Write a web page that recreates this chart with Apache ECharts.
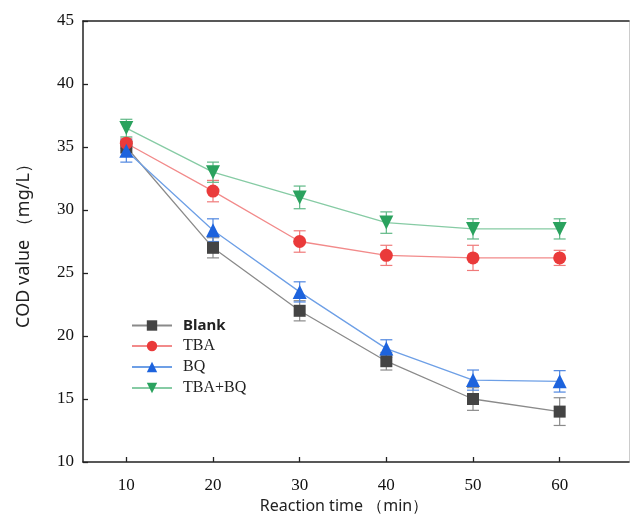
<!DOCTYPE html>
<html><head><meta charset="utf-8">
<script src="https://cdn.jsdelivr.net/npm/echarts@6/dist/echarts.min.js"></script>
<style>html,body{margin:0;padding:0;background:#fff}#c{width:630px;height:515px}</style>
</head><body><div id="c"></div>
<script>
const times = [10, 20, 30, 40, 50, 60];
const xTicks = [10, 20, 30, 40, 50, 60];
const blank = [35.0, 27.0, 22.0, 18.0, 15.0, 14.0];
const blankErr = [0.5, 0.8, 0.8, 0.7, 0.9, 1.1];
const tba = [35.3, 31.5, 27.5, 26.4, 26.2, 26.2];
const tbaErr = [0.4, 0.85, 0.85, 0.8, 1.0, 0.6];
const bq = [34.7, 28.4, 23.5, 19.0, 16.5, 16.4];
const bqErr = [0.9, 0.9, 0.8, 0.7, 0.8, 0.85];
const tbabq = [36.5, 33.0, 31.0, 29.0, 28.5, 28.5];
const tbabqErr = [0.7, 0.8, 0.9, 0.85, 0.8, 0.8];

const seriesDefs = [
  {name:'Blank', data:blank, err:blankErr, symbol:'rect', size:12, line:'#8a8a8a', mark:'#444444', errc:'#8a8a8a'},
  {name:'TBA', data:tba, err:tbaErr, symbol:'circle', size:13, line:'#f28a8a', mark:'#ea3a3a', errc:'#f07a7a'},
  {name:'BQ', data:bq, err:bqErr, symbol:'triangle', size:14, line:'#6d9fe6', mark:'#1d63dd', errc:'#4f86e0'},
  {name:'TBA+BQ', data:tbabq, err:tbabqErr, symbol:'path://M0,0 L10,0 L5,9 Z', size:14, line:'#86cba4', mark:'#2aa25e', errc:'#5fb886'}
];

const series = [];
seriesDefs.forEach(d => {
  series.push({
    type:'custom', name:d.name+' err', z:1, silent:true,
    data: times.map((t,i)=>[t, d.data[i]-d.err[i], d.data[i]+d.err[i]]),
    renderItem:(params, api)=>{
      const lo = api.coord([api.value(0), api.value(1)]);
      const hi = api.coord([api.value(0), api.value(2)]);
      const w = 6;
      const st = {stroke:d.errc, lineWidth:1.2};
      return {type:'group', children:[
        {type:'line', shape:{x1:lo[0],y1:lo[1],x2:hi[0],y2:hi[1]}, style:st},
        {type:'line', shape:{x1:lo[0]-w,y1:lo[1],x2:lo[0]+w,y2:lo[1]}, style:st},
        {type:'line', shape:{x1:hi[0]-w,y1:hi[1],x2:hi[0]+w,y2:hi[1]}, style:st}
      ]};
    }
  });
  series.push({
    type:'line', name:d.name, z:3,
    data: times.map((t,i)=>[t, d.data[i]]),
    symbol:d.symbol, symbolSize:d.size,
    lineStyle:{color:d.line, width:1.3},
    itemStyle:{color:d.mark},
    emphasis:{disabled:true}
  });
});

const chart = echarts.init(document.getElementById('c'));
chart.setOption({
  animation:false,
  grid:{left:83, right:1, top:21, bottom:53, containLabel:false, outerBoundsMode:'none'},
  legend:{
    orient:'vertical', left:126, top:313, itemGap:5, itemWidth:40, itemHeight:13,
    data:['Blank','TBA','BQ','TBA+BQ'],
    formatter: n => n==='Blank' ? '{s|'+n+'}' : '{t|'+n+'}',
    textStyle:{rich:{
      s:{fontFamily:'Noto Sans', fontWeight:'bold', fontSize:15, color:'#222', padding:[0,0,0,6]},
      t:{fontFamily:'Liberation Serif', fontSize:16, color:'#222', padding:[0,0,0,6]}
    }}
  },
  xAxis:[{
    type:'value', min:5, max:68,
    name:'Reaction time （min）', nameLocation:'middle', nameGap:36,
    nameTextStyle:{fontFamily:'Noto Sans', fontSize:16, color:'#222', padding:[0,24,0,0]},
    axisLine:{lineStyle:{color:'#222', width:1.5}},
    axisTick:{inside:true, length:5, customValues:xTicks, lineStyle:{color:'#222', width:1.3}},
    axisLabel:{customValues:xTicks, fontFamily:'Liberation Serif', fontSize:17, color:'#111', margin:15},
    splitLine:{show:false}
  },{
    type:'value', position:'top', min:5, max:68,
    axisLine:{show:true, lineStyle:{color:'#222', width:1.5}},
    axisTick:{show:false}, axisLabel:{show:false}, splitLine:{show:false}
  }],
  yAxis:[{
    type:'value', min:10, max:45, interval:5,
    name:'COD value （mg/L）', nameLocation:'middle', nameGap:50,
    nameTextStyle:{fontFamily:'Noto Sans', fontSize:18, color:'#222'},
    axisLine:{show:true, lineStyle:{color:'#222', width:1.5}},
    axisTick:{inside:true, length:5, lineStyle:{color:'#222', width:1.3}},
    axisLabel:{fontFamily:'Liberation Serif', fontSize:17, color:'#111', margin:9},
    splitLine:{show:false}
  },{
    type:'value', position:'right', min:10, max:45,
    axisLine:{show:true, lineStyle:{color:'#cccccc', width:1}},
    axisTick:{show:false}, axisLabel:{show:false}, splitLine:{show:false}
  }],
  series: series
});
</script></body></html>
